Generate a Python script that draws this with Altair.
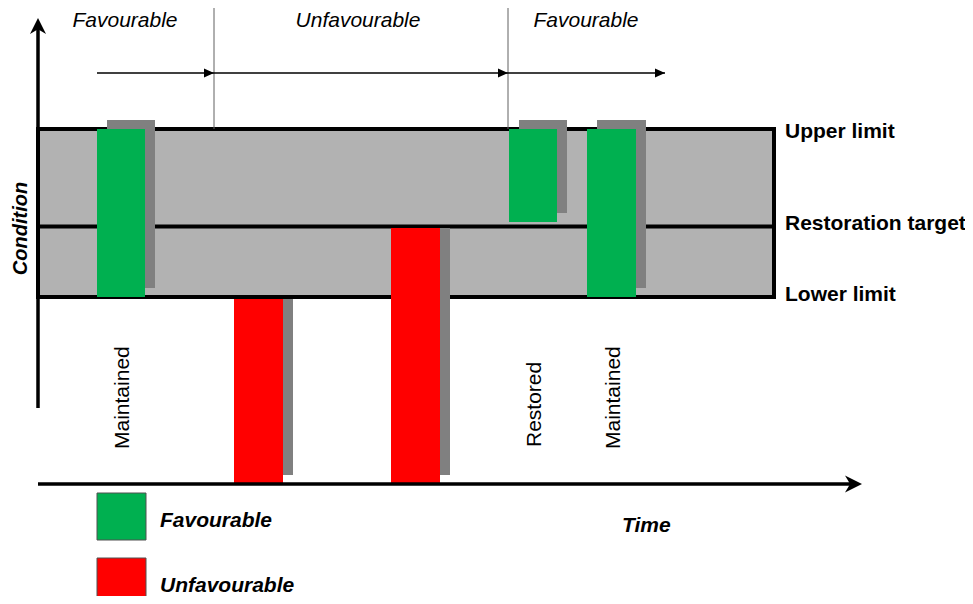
import altair as alt
import pandas as pd

# ---- data (time units along the x-axis, condition units up the y-axis) ----
levels = ["Upper limit", "Restoration target", "Lower limit"]
level_values = [35.5, 25.75, 18.7]
level_label_c = [34.6, 25.4, 18.3]
box_t_end = 73.6

bar_status = ["Favourable", "Unfavourable", "Unfavourable", "Favourable", "Favourable"]
bar_t0 = [5.9, 19.6, 35.3, 47.1, 54.9]
bar_t1 = [10.7, 24.5, 40.2, 51.9, 59.8]
bar_low = [18.7, 0.0, 0.0, 26.2, 18.7]
bar_high = [35.5, 18.5, 25.6, 35.5, 35.5]

bar_labels = ["Maintained", "Restored", "Maintained"]
bar_label_t = [9.1, 50.3, 58.2]
bar_label_c = [3.5, 3.7, 3.5]

periods = ["Favourable", "Unfavourable", "Favourable"]
period_center = [8.7, 32.0, 54.8]
period_bounds = [5.9, 17.6, 47.0, 62.7]
period_label_c = 45.7
arrow_c = 41.1

legend_items = ["Favourable", "Unfavourable"]
legend_c0 = [-0.9, -7.4]
legend_c1 = [-5.6, -12.5]
legend_text_c = [-4.3, -10.8]

colors = ["#00b050", "#ff0000"]

# ---- scales ----
xs = alt.Scale(domain=[-3.0, 92.7], nice=False, zero=False)
ys = alt.Scale(domain=[-11.2, 47.6], nice=False, zero=False)
cs = alt.Scale(domain=legend_items, range=colors)
FONT = "Liberation Sans"


def X(f):
    return alt.X(f, type="quantitative", scale=xs, axis=None)


def Y(f):
    return alt.Y(f, type="quantitative", scale=ys, axis=None)


# ---- tables ----
box_df = pd.DataFrame({"t0": [0.0], "t1": [box_t_end], "c0": [level_values[2]], "c1": [level_values[0]]})
target_df = pd.DataFrame({"t0": [0.0], "t1": [box_t_end], "c": [level_values[1]]})
bars_df = pd.DataFrame({"status": bar_status, "t0": bar_t0, "t1": bar_t1, "low": bar_low, "high": bar_high})
shadow_df = pd.DataFrame({
    "t0": [a + 1.0 for a in bar_t0],
    "t1": [b + 1.0 for b in bar_t1],
    "low": [l + 0.9 for l in bar_low],
    "high": [h + 0.9 if s == "Favourable" else h for h, s in zip(bar_high, bar_status)],
})
div_df = pd.DataFrame({"t": period_bounds[1:3], "c0": [47.7, 47.7], "c1": [level_values[0]] * 2})
arr_df = pd.DataFrame({"t0": period_bounds[:-1], "t1": period_bounds[1:], "c": [arrow_c] * 3})
per_df = pd.DataFrame({"label": periods, "t": period_center, "c": [period_label_c] * 3})
lev_df = pd.DataFrame({"label": levels, "t": [74.7] * 3, "c": level_label_c})
blab_df = pd.DataFrame({"label": bar_labels, "t": bar_label_t, "c": bar_label_c})
leg_df = pd.DataFrame({"status": legend_items, "t0": [5.9] * 2, "t1": [10.8] * 2, "c0": legend_c0, "c1": legend_c1, "tc": legend_text_c})
yaxis_df = pd.DataFrame({"t": [0.0], "c0": [7.6], "c1": [45.5], "tip": [46.6]})
xaxis_df = pd.DataFrame({"t0": [0.0], "t1": [81.2], "tip": [82.4], "c": [0.0]})

# ---- layers ----
box = alt.Chart(box_df).mark_rect(fill="#b2b2b2", stroke="black", strokeWidth=4).encode(
    x=X("t0"), x2="t1", y=Y("c0"), y2="c1")
target = alt.Chart(target_df).mark_rule(color="black", strokeWidth=4).encode(x=X("t0"), x2="t1", y=Y("c"))
dividers = alt.Chart(div_df).mark_rule(color="#606060", strokeWidth=1).encode(x=X("t"), y=Y("c0"), y2="c1")
arrows = alt.Chart(arr_df).mark_rule(color="black", strokeWidth=1.6).encode(x=X("t0"), x2="t1", y=Y("c"))
heads = alt.Chart(arr_df).mark_point(shape="M0,0 L-1,-0.45 L-1,0.45 Z", filled=True, size=400,
                                     color="black", opacity=1, strokeWidth=0).encode(x=X("t1"), y=Y("c"))
shadows = alt.Chart(shadow_df).mark_rect(color="#808080").encode(x=X("t0"), x2="t1", y=Y("low"), y2="high")
bars = alt.Chart(bars_df).mark_rect().encode(
    x=X("t0"), x2="t1", y=Y("low"), y2="high",
    color=alt.Color("status:N", scale=cs, legend=None))
yaxis = alt.Chart(yaxis_df).mark_rule(color="black", strokeWidth=3.5).encode(x=X("t"), y=Y("c0"), y2="c1")
yhead = alt.Chart(yaxis_df).mark_point(shape="M0,0 L0.5,1 L0,0.7 L-0.5,1 Z", filled=True, size=1024,
                                       color="black", opacity=1, strokeWidth=0).encode(x=X("t"), y=Y("tip"))
xaxis = alt.Chart(xaxis_df).mark_rule(color="black", strokeWidth=3.3).encode(x=X("t0"), x2="t1", y=Y("c"))
xhead = alt.Chart(xaxis_df).mark_point(shape="M0,0 L-1,-0.5 L-0.7,0 L-1,0.5 Z", filled=True, size=1156,
                                       color="black", opacity=1, strokeWidth=0).encode(x=X("tip"), y=Y("c"))
leg_sq = alt.Chart(leg_df).mark_rect(stroke="#505050", strokeWidth=1).encode(
    x=X("t0"), x2="t1", y=Y("c0"), y2="c1",
    color=alt.Color("status:N", scale=cs, legend=None))
leg_txt = alt.Chart(leg_df).mark_text(font=FONT, fontSize=21, fontWeight="bold", fontStyle="italic",
                                      align="left", baseline="alphabetic", color="black").encode(
    x=alt.X("tl:Q", scale=xs, axis=None), y=Y("tc"), text="status:N").transform_calculate(tl="12.2")
per_txt = alt.Chart(per_df).mark_text(font=FONT, fontSize=21, fontStyle="italic", align="center",
                                      baseline="alphabetic", color="black").encode(x=X("t"), y=Y("c"), text="label:N")
lev_txt = alt.Chart(lev_df).mark_text(font=FONT, fontSize=21, fontWeight="bold", align="left",
                                      baseline="alphabetic", color="black").encode(x=X("t"), y=Y("c"), text="label:N")
blab_txt = alt.Chart(blab_df).mark_text(font=FONT, fontSize=21, angle=270, align="left",
                                        baseline="alphabetic", color="black").encode(x=X("t"), y=Y("c"), text="label:N")
cond_txt = alt.Chart(pd.DataFrame({"label": ["Condition"], "t": [-1.1], "c": [25.55]})).mark_text(
    font=FONT, fontSize=20, fontWeight="bold", fontStyle="italic", angle=270, align="center",
    baseline="alphabetic", color="black").encode(x=X("t"), y=Y("c"), text="label:N")
time_txt = alt.Chart(pd.DataFrame({"label": ["Time"], "t": [58.4], "c": [-4.8]})).mark_text(
    font=FONT, fontSize=21, fontWeight="bold", fontStyle="italic", align="left",
    baseline="alphabetic", color="black").encode(x=X("t"), y=Y("c"), text="label:N")

chart = alt.layer(
    box, target, dividers, arrows, heads, shadows, bars, yaxis, yhead, xaxis, xhead,
    leg_sq, leg_txt, per_txt, lev_txt, blab_txt, cond_txt, time_txt,
).properties(
    width=957, height=588, padding=0, autosize=alt.AutoSizeParams(type="none"),
).configure_view(stroke=None)

chart.save("out.html", embed_options={"renderer": "svg", "actions": False})
